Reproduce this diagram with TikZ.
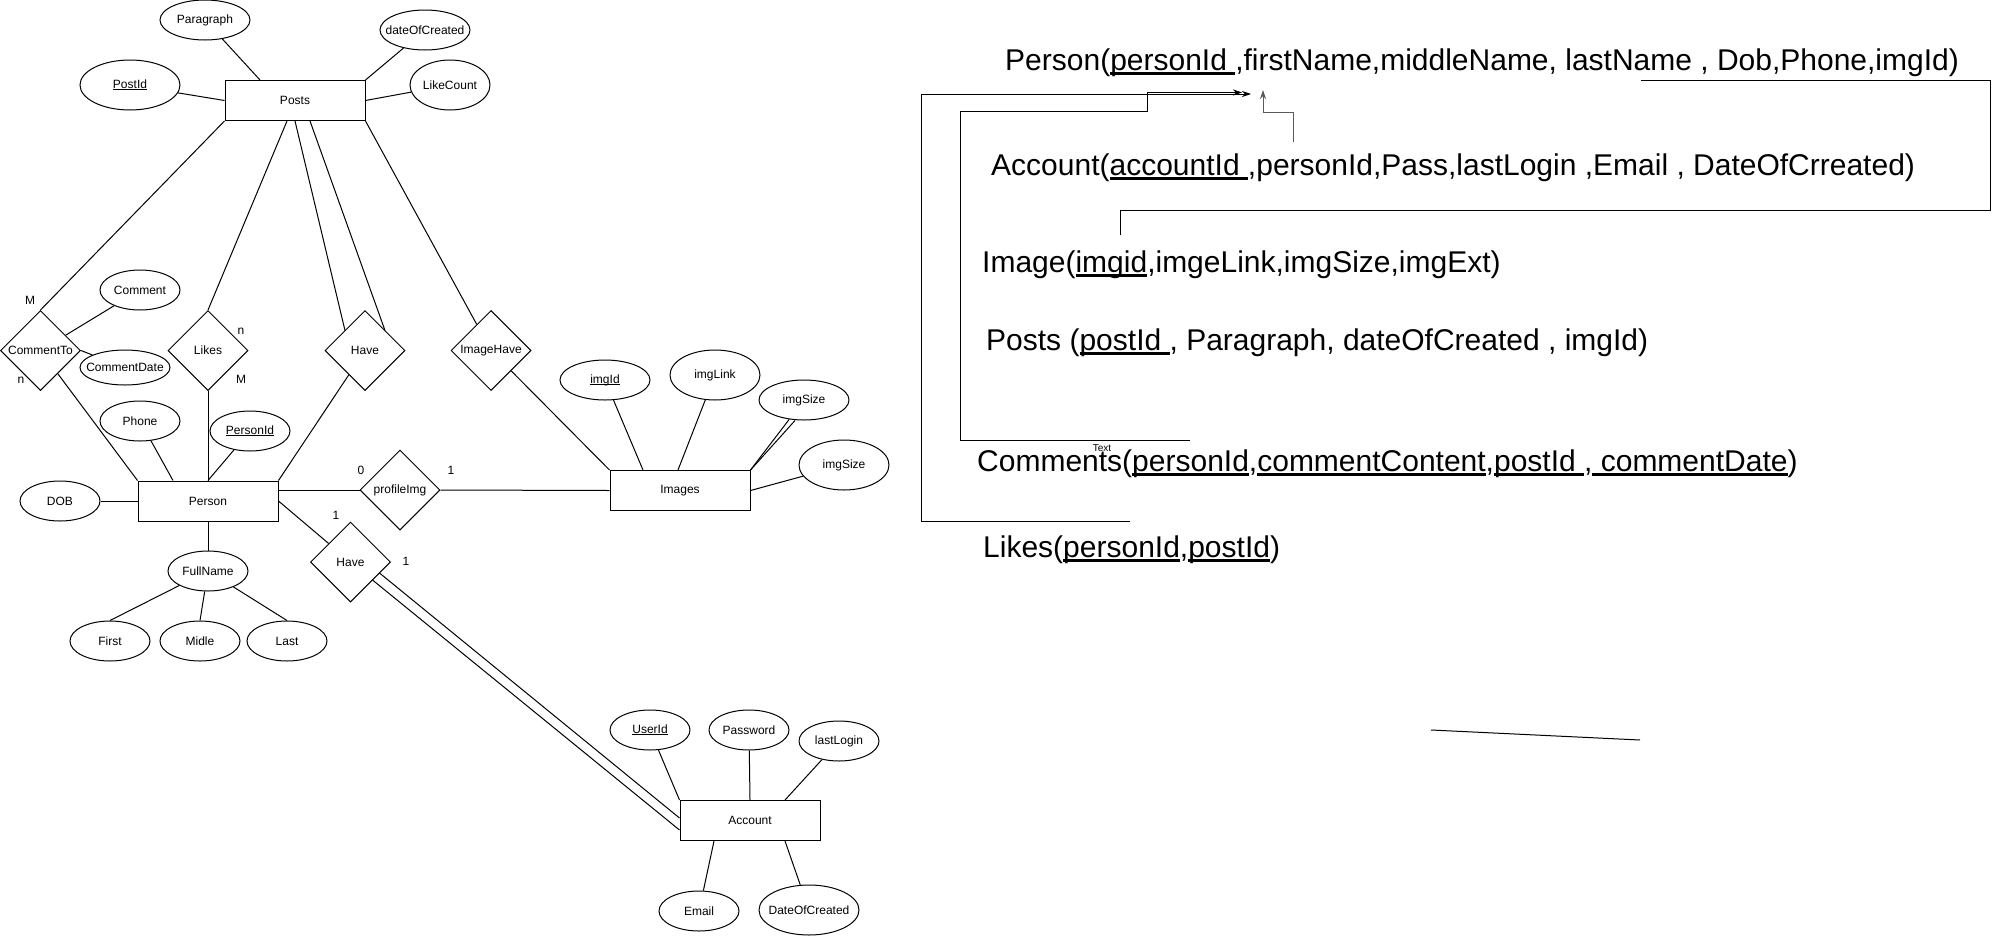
\documentclass[tikz,border=0pt]{standalone}
\usepackage{fontspec}
\setmainfont{Liberation Sans}
\usetikzlibrary{shapes.geometric,arrows.meta}
\newcommand{\myul}[1]{\setbox0=\hbox{#1}\leavevmode\rlap{\rule[-5pt]{\wd0}{2.6pt}}\box0}
\newcommand{\thinul}[1]{\setbox0=\hbox{#1}\leavevmode\rlap{\rule[-1.8pt]{\wd0}{0.8pt}}\box0}
\begin{document}
\begin{tikzpicture}[x=1pt,y=-1pt,
  every node/.style={font=\fontsize{12}{14}\selectfont},
  ent/.style={draw,line width=1pt,minimum width=140pt,minimum height=40pt,inner sep=0pt},
  att/.style 2 args={draw,ellipse,line width=1pt,inner sep=0pt,minimum width=#1,minimum height=#2},
  rel/.style={draw,diamond,line width=1pt,minimum width=80pt,minimum height=80pt,inner sep=0pt},
  card/.style={inner sep=0pt},
  ln/.style={line width=1pt},
  schema/.style={font=\fontsize{30}{36}\selectfont,anchor=base west,inner sep=0pt},
  fk/.style={line width=1pt},
  tip/.style={-{Stealth[length=9pt,width=6pt]}}
]
\useasboundingbox (0,0) rectangle (1994,937);

% ---------- Posts ----------
\node[ent] (posts) at (295,100.5) {Posts};
\node[att={90pt}{40pt}] (para) at (205,20) {\makebox[0pt]{Paragraph}};
\node[att={90pt}{40pt}] (doc) at (425,30) {\makebox[0pt]{dateOfCreated}};
\node[att={100pt}{50pt}] (postid) at (130,85) {\makebox[0pt]{\thinul{PostId}}};
\node[att={80pt}{50pt}] (likecount) at (450,85) {\makebox[0pt]{LikeCount}};

% ---------- relationships row ----------
\node[att={80pt}{40pt}] (comment) at (140,290) {\makebox[0pt]{Comment}};
\node[rel] (ct) at (40.5,350.5) {CommentTo};
\node[att={90pt}{35pt}] (cdate) at (125,367.5) {\makebox[0pt]{CommentDate}};
\node[rel] (likes) at (208,350.5) {Likes};
\node[rel] (hv1) at (365,350.5) {Have};
\node[rel] (ih) at (491,350.5) {ImageHave};

% ---------- Images ----------
\node[ent] (images) at (680,490.5) {Images};
\node[att={90pt}{40pt}] (imgid) at (605,380) {\makebox[0pt]{\thinul{imgId}}};
\node[att={90pt}{50pt}] (imglink) at (715,375) {\makebox[0pt]{imgLink}};
\node[att={90pt}{40pt}] (isz1) at (804,400) {\makebox[0pt]{imgSize}};
\node[att={90pt}{50pt}] (isz2) at (844,465) {\makebox[0pt]{imgSize}};
\node[rel] (pimg) at (400,490) {profileImg};

% ---------- Person ----------
\node[ent] (person) at (208,501) {Person};
\node[att={80pt}{40pt}] (dob) at (60,501) {\makebox[0pt]{DOB}};
\node[att={80pt}{40pt}] (phone) at (140,421) {\makebox[0pt]{Phone}};
\node[att={80pt}{40pt}] (personid) at (250,431) {\makebox[0pt]{\thinul{PersonId}}};
\node[att={80pt}{40pt}] (fullname) at (208,571) {\makebox[0pt]{FullName}};
\node[att={80pt}{40pt}] (first) at (110,641) {\makebox[0pt]{First}};
\node[att={80pt}{40pt}] (midle) at (200,641) {\makebox[0pt]{Midle}};
\node[att={80pt}{40pt}] (last) at (287,641) {\makebox[0pt]{Last}};
\node[rel] (hv2) at (350.5,562) {Have};

% ---------- Account ----------
\node[ent] (account) at (750,820.5) {Account};
\node[att={80pt}{40pt}] (userid) at (650,730) {\makebox[0pt]{\thinul{UserId}}};
\node[att={80pt}{40pt}] (password) at (749,730) {\makebox[0pt]{Password}};
\node[att={80pt}{40pt}] (lastlogin) at (839,741) {\makebox[0pt]{lastLogin}};
\node[att={80pt}{40pt}] (email) at (699,911) {\makebox[0pt]{Email}};
\node[att={100pt}{50pt}] (dcreated) at (809,910) {\makebox[0pt]{DateOfCreated}};

% ---------- cardinalities ----------
\node[card] (c1) at (30,300) {M};
\node[card] (c2) at (21,380) {n};
\node[card] (c3) at (241,331) {n};
\node[card] (c4) at (241,379) {M};
\node[card] (c5) at (361,470) {0};
\node[card] (c6) at (451,470) {1};
\node[card] (c7) at (336,515) {1};
\node[card] (c8) at (406,561) {1};

% ---------- ER connectors ----------
\draw[ln] (para) -- ([xshift=-35pt]posts.north);
\draw[ln] (postid) -- (posts.west);
\draw[ln] (doc) -- (posts.north east);
\draw[ln] (likecount) -- (posts.east);
\draw[ln] (posts.south west) -- (ct.north);
\draw[ln] ([xshift=-8pt]posts.south) -- (likes.north);
\draw[ln] (posts.south) -- ([shift={(-20pt,20pt)}]hv1.center);
\draw[ln] ([xshift=15pt]posts.south) -- ([shift={(20pt,20pt)}]hv1.center);
\draw[ln] (posts.south east) -- (ih);
\draw[ln] (ct) -- (comment);
\draw[ln] (ct.east) -- (cdate.159);
\draw[ln] (ct) -- (person.north west);
\draw[ln] (likes.south) -- (person.north);
\draw[ln] (hv1) -- (person.north east);
\draw[ln] (phone) -- ([xshift=-35pt]person.north);
\draw[ln] (personid) -- (person.north);
\draw[ln] (dob) -- (person.west);
\draw[ln] (person.south) -- (fullname);
\draw[ln] (fullname) -- (first.north);
\draw[ln] (fullname) -- (midle.north);
\draw[ln] (fullname) -- (last.north);
\draw[ln] ([yshift=11pt]person.east) -- (pimg.west);
\draw[ln] (pimg.east) -- (images.west);
\draw[ln] (person.east) -- (hv2);
\draw[ln] ([shift={(22pt,-18pt)}]hv2.center) -- ([yshift=-9.5pt]account.west);
\draw[ln] ([shift={(29pt,-11pt)}]hv2.center) -- ([yshift=2.5pt]account.west);
\draw[ln] (ih) -- (images.north west);
\draw[ln] (imgid) -- ([xshift=-37pt]images.north);
\draw[ln] (imglink) -- ([xshift=-2pt]images.north);
\draw[ln] (isz1) -- (images.north east);
\draw[ln] ([xshift=-9pt]isz1.south) -- (images.north east);
\draw[ln] (isz2) -- (images.east);
\draw[ln] (userid) -- (account.north west);
\draw[ln] (password) -- (account.north);
\draw[ln] (lastlogin) -- ([xshift=35pt]account.north);
\draw[ln] (email) -- ([xshift=-36pt]account.south);
\draw[ln] (dcreated) -- ([xshift=35pt]account.south);

% ---------- relational schema ----------
\node[schema] (sPerson) at (1005,70) {Person(\myul{personId },firstName,middleName, lastName , Dob,Phone,imgId)};
\node[schema] (sAccount) at (991,175) {Account(\myul{accountId },personId,Pass,lastLogin ,Email , DateOfCrreated)};
\node[schema] (sImage) at (982,272) {Image(\myul{imgid},imgeLink,imgSize,imgExt)};
\node[schema] (sPosts) at (986,350) {Posts (\myul{postId }, Paragraph, dateOfCreated , imgId)};
\node[schema] (sComments) at (977,471) {Comments(\myul{personId},\myul{commentContent},\myul{postId },\myul{ commentDate})};
\node[schema] (sLikes) at (983,557) {Likes(\myul{personId},\myul{postId})};
\node[font=\fontsize{10}{12}\selectfont,inner sep=0pt] (txt) at (1102,448) {Text};

\coordinate (tipC) at (1242,92.5);
\coordinate (tipL) at (1251,94);
\coordinate (tipA) at (1263,90);
\coordinate (aStart) at (1293,142);
\coordinate (iStart) at (1120,235);
\coordinate (iEnd) at (1641,80);
\coordinate (cStart) at (1190,440);
\coordinate (lStart) at (1130,521);
\coordinate (stA) at (1431,730);
\coordinate (stB) at (1640,740);

\draw[fk,tip,draw=black!65] (aStart) -- ++(0,-30) -| (tipA);
\draw[fk,tip] (cStart) -| (960,111) -| (1147,92.5) -- (tipC);
\draw[fk,tip] (lStart) -| (921,94) -- (tipL);
\draw[fk] (iStart) |- (1990,210) |- (iEnd);
\draw[fk] (stA) -- (stB);
\end{tikzpicture}
\end{document}
